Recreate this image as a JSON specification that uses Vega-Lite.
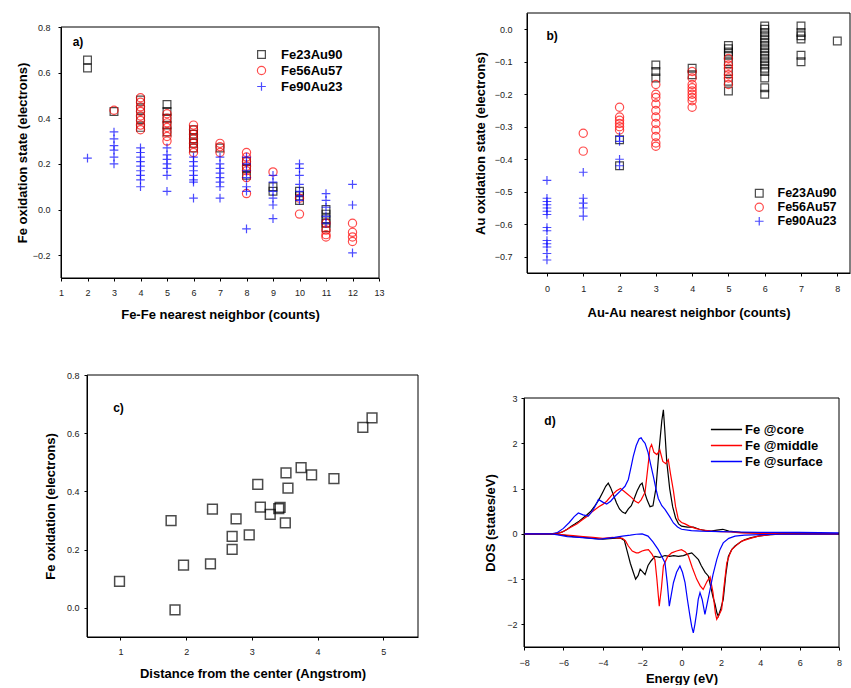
{
"$schema": "https://vega.github.io/schema/vega-lite/v6.json",
"background": "white",
"padding": {"left": 0, "top": 12, "right": 0, "bottom": 0},
"config": {
  "font": "Liberation Sans",
  "view": {"stroke": null},
  "axis": {"grid": false, "domain": true, "domainColor": "black", "domainWidth": 1, "tickColor": "black", "tickSize": 3, "tickWidth": 1, "labelFont": "Liberation Sans", "labelFontSize": 9, "labelColor": "#222", "labelFlush": false, "labelOverlap": false, "titleFont": "Liberation Sans", "titleFontSize": 13, "titleFontWeight": "bold", "titleColor": "black"},
  "legend": {"labelFont": "Liberation Sans", "labelColor": "black", "labelFontWeight": "bold"}
},
"resolve": {"scale": {"color": "independent", "shape": "independent", "size": "independent"}, "legend": {"color": "independent", "shape": "independent", "size": "independent"}},
"spacing": 50,
"vconcat": [
 {"resolve": {"scale": {"color": "independent", "shape": "independent", "size": "independent"}, "legend": {"color": "independent", "shape": "independent", "size": "independent"}},
  "hconcat": [
   {"vconcat": [
     {"width": 1, "height": 10, "data": {"values": []}, "mark": "point"},
     {"hconcat": [
       {"width": 16, "height": 1, "data": {"values": []}, "mark": "point"},
       {"width": 318, "height": 251,
        "resolve": {"axis": {"x": "independent", "y": "independent"}},
        "layer": [
         {"data": {"values": [
{"n":2,"q":0.655,"s":"Fe23Au90"},{"n":2,"q":0.62,"s":"Fe23Au90"},{"n":3,"q":0.43,"s":"Fe23Au90"},{"n":4,"q":0.48,"s":"Fe23Au90"},{"n":4,"q":0.44,"s":"Fe23Au90"},{"n":4,"q":0.40,"s":"Fe23Au90"},{"n":4,"q":0.36,"s":"Fe23Au90"},{"n":5,"q":0.46,"s":"Fe23Au90"},{"n":5,"q":0.43,"s":"Fe23Au90"},{"n":5,"q":0.40,"s":"Fe23Au90"},{"n":5,"q":0.37,"s":"Fe23Au90"},{"n":5,"q":0.34,"s":"Fe23Au90"},{"n":6,"q":0.35,"s":"Fe23Au90"},{"n":6,"q":0.33,"s":"Fe23Au90"},{"n":6,"q":0.31,"s":"Fe23Au90"},{"n":6,"q":0.29,"s":"Fe23Au90"},{"n":6,"q":0.27,"s":"Fe23Au90"},{"n":7,"q":0.27,"s":"Fe23Au90"},{"n":8,"q":0.21,"s":"Fe23Au90"},{"n":8,"q":0.18,"s":"Fe23Au90"},{"n":8,"q":0.15,"s":"Fe23Au90"},{"n":9,"q":0.10,"s":"Fe23Au90"},{"n":9,"q":0.08,"s":"Fe23Au90"},{"n":10,"q":0.08,"s":"Fe23Au90"},{"n":10,"q":0.06,"s":"Fe23Au90"},{"n":10,"q":0.04,"s":"Fe23Au90"},{"n":11,"q":0.0,"s":"Fe23Au90"},{"n":11,"q":-0.02,"s":"Fe23Au90"},{"n":11,"q":-0.04,"s":"Fe23Au90"},{"n":11,"q":-0.06,"s":"Fe23Au90"},{"n":11,"q":-0.08,"s":"Fe23Au90"},
{"n":3,"q":0.435,"s":"Fe56Au57"},{"n":4,"q":0.49,"s":"Fe56Au57"},{"n":4,"q":0.47,"s":"Fe56Au57"},{"n":4,"q":0.45,"s":"Fe56Au57"},{"n":4,"q":0.43,"s":"Fe56Au57"},{"n":4,"q":0.41,"s":"Fe56Au57"},{"n":4,"q":0.39,"s":"Fe56Au57"},{"n":4,"q":0.37,"s":"Fe56Au57"},{"n":4,"q":0.35,"s":"Fe56Au57"},{"n":5,"q":0.42,"s":"Fe56Au57"},{"n":5,"q":0.40,"s":"Fe56Au57"},{"n":5,"q":0.38,"s":"Fe56Au57"},{"n":5,"q":0.36,"s":"Fe56Au57"},{"n":5,"q":0.34,"s":"Fe56Au57"},{"n":5,"q":0.32,"s":"Fe56Au57"},{"n":5,"q":0.30,"s":"Fe56Au57"},{"n":6,"q":0.37,"s":"Fe56Au57"},{"n":6,"q":0.35,"s":"Fe56Au57"},{"n":6,"q":0.33,"s":"Fe56Au57"},{"n":6,"q":0.31,"s":"Fe56Au57"},{"n":6,"q":0.29,"s":"Fe56Au57"},{"n":6,"q":0.27,"s":"Fe56Au57"},{"n":6,"q":0.25,"s":"Fe56Au57"},{"n":7,"q":0.29,"s":"Fe56Au57"},{"n":7,"q":0.275,"s":"Fe56Au57"},{"n":7,"q":0.25,"s":"Fe56Au57"},{"n":8,"q":0.25,"s":"Fe56Au57"},{"n":8,"q":0.23,"s":"Fe56Au57"},{"n":8,"q":0.21,"s":"Fe56Au57"},{"n":8,"q":0.19,"s":"Fe56Au57"},{"n":8,"q":0.17,"s":"Fe56Au57"},{"n":8,"q":0.14,"s":"Fe56Au57"},{"n":8,"q":0.07,"s":"Fe56Au57"},{"n":9,"q":0.165,"s":"Fe56Au57"},{"n":10,"q":0.05,"s":"Fe56Au57"},{"n":10,"q":-0.02,"s":"Fe56Au57"},{"n":11,"q":-0.06,"s":"Fe56Au57"},{"n":11,"q":-0.09,"s":"Fe56Au57"},{"n":11,"q":-0.11,"s":"Fe56Au57"},{"n":11,"q":-0.12,"s":"Fe56Au57"},{"n":12,"q":-0.06,"s":"Fe56Au57"},{"n":12,"q":-0.10,"s":"Fe56Au57"},{"n":12,"q":-0.12,"s":"Fe56Au57"},{"n":12,"q":-0.14,"s":"Fe56Au57"},
{"n":2,"q":0.225,"s":"Fe90Au23"},{"n":3,"q":0.34,"s":"Fe90Au23"},{"n":3,"q":0.31,"s":"Fe90Au23"},{"n":3,"q":0.28,"s":"Fe90Au23"},{"n":3,"q":0.26,"s":"Fe90Au23"},{"n":3,"q":0.23,"s":"Fe90Au23"},{"n":3,"q":0.20,"s":"Fe90Au23"},{"n":4,"q":0.27,"s":"Fe90Au23"},{"n":4,"q":0.25,"s":"Fe90Au23"},{"n":4,"q":0.23,"s":"Fe90Au23"},{"n":4,"q":0.21,"s":"Fe90Au23"},{"n":4,"q":0.19,"s":"Fe90Au23"},{"n":4,"q":0.17,"s":"Fe90Au23"},{"n":4,"q":0.15,"s":"Fe90Au23"},{"n":4,"q":0.13,"s":"Fe90Au23"},{"n":4,"q":0.10,"s":"Fe90Au23"},{"n":5,"q":0.27,"s":"Fe90Au23"},{"n":5,"q":0.24,"s":"Fe90Au23"},{"n":5,"q":0.22,"s":"Fe90Au23"},{"n":5,"q":0.20,"s":"Fe90Au23"},{"n":5,"q":0.18,"s":"Fe90Au23"},{"n":5,"q":0.15,"s":"Fe90Au23"},{"n":5,"q":0.08,"s":"Fe90Au23"},{"n":6,"q":0.23,"s":"Fe90Au23"},{"n":6,"q":0.21,"s":"Fe90Au23"},{"n":6,"q":0.19,"s":"Fe90Au23"},{"n":6,"q":0.17,"s":"Fe90Au23"},{"n":6,"q":0.15,"s":"Fe90Au23"},{"n":6,"q":0.13,"s":"Fe90Au23"},{"n":6,"q":0.12,"s":"Fe90Au23"},{"n":6,"q":0.05,"s":"Fe90Au23"},{"n":7,"q":0.23,"s":"Fe90Au23"},{"n":7,"q":0.20,"s":"Fe90Au23"},{"n":7,"q":0.18,"s":"Fe90Au23"},{"n":7,"q":0.16,"s":"Fe90Au23"},{"n":7,"q":0.14,"s":"Fe90Au23"},{"n":7,"q":0.12,"s":"Fe90Au23"},{"n":7,"q":0.10,"s":"Fe90Au23"},{"n":7,"q":0.05,"s":"Fe90Au23"},{"n":8,"q":0.23,"s":"Fe90Au23"},{"n":8,"q":0.20,"s":"Fe90Au23"},{"n":8,"q":0.17,"s":"Fe90Au23"},{"n":8,"q":0.14,"s":"Fe90Au23"},{"n":8,"q":0.10,"s":"Fe90Au23"},{"n":8,"q":0.08,"s":"Fe90Au23"},{"n":8,"q":-0.085,"s":"Fe90Au23"},{"n":9,"q":0.15,"s":"Fe90Au23"},{"n":9,"q":0.12,"s":"Fe90Au23"},{"n":9,"q":0.08,"s":"Fe90Au23"},{"n":9,"q":0.05,"s":"Fe90Au23"},{"n":9,"q":0.02,"s":"Fe90Au23"},{"n":9,"q":-0.04,"s":"Fe90Au23"},{"n":10,"q":0.20,"s":"Fe90Au23"},{"n":10,"q":0.18,"s":"Fe90Au23"},{"n":10,"q":0.15,"s":"Fe90Au23"},{"n":10,"q":0.11,"s":"Fe90Au23"},{"n":10,"q":0.08,"s":"Fe90Au23"},{"n":10,"q":0.06,"s":"Fe90Au23"},{"n":10,"q":0.04,"s":"Fe90Au23"},{"n":11,"q":0.07,"s":"Fe90Au23"},{"n":11,"q":0.04,"s":"Fe90Au23"},{"n":11,"q":0.01,"s":"Fe90Au23"},{"n":11,"q":-0.03,"s":"Fe90Au23"},{"n":11,"q":-0.06,"s":"Fe90Au23"},{"n":12,"q":0.11,"s":"Fe90Au23"},{"n":12,"q":0.02,"s":"Fe90Au23"},{"n":12,"q":-0.19,"s":"Fe90Au23"}
          ]},
          "mark": {"type": "point", "filled": false, "strokeWidth": 1.2, "clip": true},
          "encoding": {
            "x": {"field": "n", "type": "quantitative", "scale": {"domain": [1, 13], "nice": false, "zero": false}, "axis": {"values": [1,2,3,4,5,6,7,8,9,10,11,12,13], "title": "Fe-Fe nearest neighbor (counts)", "labelPadding": 7, "minExtent": 20, "maxExtent": 20, "titlePadding": 10}},
            "y": {"field": "q", "type": "quantitative", "scale": {"domain": [-0.3, 0.8], "nice": false, "zero": false}, "axis": {"values": [-0.2, 0, 0.2, 0.4, 0.6, 0.8], "format": ".1f", "title": "Fe oxidation state (electrons)", "labelPadding": 8, "minExtent": 28, "maxExtent": 28, "titlePadding": 4}},
            "color": {"field": "s", "type": "nominal", "scale": {"domain": ["Fe23Au90", "Fe56Au57", "Fe90Au23"], "range": ["black", "red", "blue"]}, "legend": {"title": null, "orient": "none", "legendX": 255, "legendY": 35, "labelFontSize": 13, "labelOffset": 13, "rowPadding": 1, "symbolSize": 70, "symbolStrokeWidth": 1.2, "padding": 0}},
            "shape": {"field": "s", "type": "nominal", "scale": {"domain": ["Fe23Au90", "Fe56Au57", "Fe90Au23"], "range": ["square", "circle", "M-1,0L1,0M0,-1L0,1"]}, "legend": {"title": null, "orient": "none", "legendX": 255, "legendY": 35, "labelFontSize": 13, "labelOffset": 13, "rowPadding": 1, "symbolSize": 70, "symbolStrokeWidth": 1.2, "padding": 0}},
            "size": {"field": "s", "type": "nominal", "scale": {"domain": ["Fe23Au90", "Fe56Au57", "Fe90Au23"], "range": [60, 75, 110]}, "legend": null}
          }
         },
         {"data": {"values": [{}]},
          "mark": {"type": "rect", "filled": false, "stroke": "black", "strokeWidth": 1},
          "encoding": {"x": {"datum": 1, "type": "quantitative", "axis": null}, "x2": {"datum": 13}, "y": {"datum": -0.3, "type": "quantitative", "axis": null}, "y2": {"datum": 0.8}}
         },
         {"data": {"values": [{"t": "a)", "x": 1.64, "y": 0.734}]},
          "mark": {"type": "text", "fontSize": 12, "fontWeight": "bold", "color": "black"},
          "encoding": {
            "x": {"field": "x", "type": "quantitative", "axis": null},
            "y": {"field": "y", "type": "quantitative", "axis": null},
            "text": {"field": "t"}
          }
         }
        ]
       }
     ], "spacing": 0}
   ], "spacing": 0},
   {"width": 323, "height": 260,
    "resolve": {"axis": {"x": "independent", "y": "independent"}},
    "layer": [
     {"data": {"values": [
{"n":2,"q":-0.34,"s":"Fe23Au90"},{"n":2,"q":-0.42,"s":"Fe23Au90"},{"n":3,"q":-0.11,"s":"Fe23Au90"},{"n":3,"q":-0.13,"s":"Fe23Au90"},{"n":3,"q":-0.15,"s":"Fe23Au90"},{"n":4,"q":-0.12,"s":"Fe23Au90"},{"n":4,"q":-0.14,"s":"Fe23Au90"},{"n":5,"q":-0.05,"s":"Fe23Au90"},{"n":5,"q":-0.06,"s":"Fe23Au90"},{"n":5,"q":-0.07,"s":"Fe23Au90"},{"n":5,"q":-0.08,"s":"Fe23Au90"},{"n":5,"q":-0.10,"s":"Fe23Au90"},{"n":5,"q":-0.13,"s":"Fe23Au90"},{"n":5,"q":-0.16,"s":"Fe23Au90"},{"n":5,"q":-0.19,"s":"Fe23Au90"},{"n":6,"q":0.01,"s":"Fe23Au90"},{"n":6,"q":0.0,"s":"Fe23Au90"},{"n":6,"q":-0.01,"s":"Fe23Au90"},{"n":6,"q":-0.02,"s":"Fe23Au90"},{"n":6,"q":-0.03,"s":"Fe23Au90"},{"n":6,"q":-0.04,"s":"Fe23Au90"},{"n":6,"q":-0.05,"s":"Fe23Au90"},{"n":6,"q":-0.06,"s":"Fe23Au90"},{"n":6,"q":-0.07,"s":"Fe23Au90"},{"n":6,"q":-0.08,"s":"Fe23Au90"},{"n":6,"q":-0.09,"s":"Fe23Au90"},{"n":6,"q":-0.10,"s":"Fe23Au90"},{"n":6,"q":-0.11,"s":"Fe23Au90"},{"n":6,"q":-0.12,"s":"Fe23Au90"},{"n":6,"q":-0.13,"s":"Fe23Au90"},{"n":6,"q":-0.15,"s":"Fe23Au90"},{"n":6,"q":-0.18,"s":"Fe23Au90"},{"n":6,"q":-0.20,"s":"Fe23Au90"},{"n":7,"q":0.01,"s":"Fe23Au90"},{"n":7,"q":-0.01,"s":"Fe23Au90"},{"n":7,"q":-0.02,"s":"Fe23Au90"},{"n":7,"q":-0.03,"s":"Fe23Au90"},{"n":7,"q":-0.08,"s":"Fe23Au90"},{"n":7,"q":-0.10,"s":"Fe23Au90"},{"n":8,"q":-0.036,"s":"Fe23Au90"},
{"n":1,"q":-0.32,"s":"Fe56Au57"},{"n":1,"q":-0.375,"s":"Fe56Au57"},{"n":2,"q":-0.24,"s":"Fe56Au57"},{"n":2,"q":-0.27,"s":"Fe56Au57"},{"n":2,"q":-0.28,"s":"Fe56Au57"},{"n":2,"q":-0.29,"s":"Fe56Au57"},{"n":2,"q":-0.30,"s":"Fe56Au57"},{"n":2,"q":-0.31,"s":"Fe56Au57"},{"n":3,"q":-0.17,"s":"Fe56Au57"},{"n":3,"q":-0.20,"s":"Fe56Au57"},{"n":3,"q":-0.21,"s":"Fe56Au57"},{"n":3,"q":-0.23,"s":"Fe56Au57"},{"n":3,"q":-0.25,"s":"Fe56Au57"},{"n":3,"q":-0.27,"s":"Fe56Au57"},{"n":3,"q":-0.29,"s":"Fe56Au57"},{"n":3,"q":-0.31,"s":"Fe56Au57"},{"n":3,"q":-0.33,"s":"Fe56Au57"},{"n":3,"q":-0.35,"s":"Fe56Au57"},{"n":3,"q":-0.36,"s":"Fe56Au57"},{"n":4,"q":-0.13,"s":"Fe56Au57"},{"n":4,"q":-0.15,"s":"Fe56Au57"},{"n":4,"q":-0.17,"s":"Fe56Au57"},{"n":4,"q":-0.18,"s":"Fe56Au57"},{"n":4,"q":-0.19,"s":"Fe56Au57"},{"n":4,"q":-0.20,"s":"Fe56Au57"},{"n":4,"q":-0.21,"s":"Fe56Au57"},{"n":4,"q":-0.22,"s":"Fe56Au57"},{"n":4,"q":-0.24,"s":"Fe56Au57"},{"n":5,"q":-0.09,"s":"Fe56Au57"},{"n":5,"q":-0.11,"s":"Fe56Au57"},{"n":5,"q":-0.12,"s":"Fe56Au57"},{"n":5,"q":-0.14,"s":"Fe56Au57"},{"n":5,"q":-0.15,"s":"Fe56Au57"},{"n":5,"q":-0.17,"s":"Fe56Au57"},
{"n":0,"q":-0.465,"s":"Fe90Au23"},{"n":0,"q":-0.52,"s":"Fe90Au23"},{"n":0,"q":-0.53,"s":"Fe90Au23"},{"n":0,"q":-0.54,"s":"Fe90Au23"},{"n":0,"q":-0.55,"s":"Fe90Au23"},{"n":0,"q":-0.56,"s":"Fe90Au23"},{"n":0,"q":-0.57,"s":"Fe90Au23"},{"n":0,"q":-0.61,"s":"Fe90Au23"},{"n":0,"q":-0.62,"s":"Fe90Au23"},{"n":0,"q":-0.65,"s":"Fe90Au23"},{"n":0,"q":-0.66,"s":"Fe90Au23"},{"n":0,"q":-0.67,"s":"Fe90Au23"},{"n":0,"q":-0.69,"s":"Fe90Au23"},{"n":0,"q":-0.71,"s":"Fe90Au23"},{"n":1,"q":-0.44,"s":"Fe90Au23"},{"n":1,"q":-0.52,"s":"Fe90Au23"},{"n":1,"q":-0.535,"s":"Fe90Au23"},{"n":1,"q":-0.55,"s":"Fe90Au23"},{"n":1,"q":-0.575,"s":"Fe90Au23"},{"n":2,"q":-0.33,"s":"Fe90Au23"},{"n":2,"q":-0.345,"s":"Fe90Au23"},{"n":2,"q":-0.40,"s":"Fe90Au23"},{"n":2,"q":-0.42,"s":"Fe90Au23"}
      ]},
      "mark": {"type": "point", "filled": false, "strokeWidth": 1.2, "clip": true},
      "encoding": {
        "x": {"field": "n", "type": "quantitative", "scale": {"domain": [-0.55, 8.35], "nice": false, "zero": false}, "axis": {"values": [0,1,2,3,4,5,6,7,8], "title": "Au-Au nearest neighbor (counts)", "labelPadding": 8, "minExtent": 20, "maxExtent": 20, "titlePadding": 13}},
        "y": {"field": "q", "type": "quantitative", "scale": {"domain": [-0.75, 0.05], "nice": false, "zero": false}, "axis": {"values": [-0.7, -0.6, -0.5, -0.4, -0.3, -0.2, -0.1, 0], "format": ".1f", "title": "Au oxidation state (electrons)", "labelPadding": 12, "minExtent": 30, "maxExtent": 30, "titlePadding": 10}},
        "color": {"field": "s", "type": "nominal", "scale": {"domain": ["Fe23Au90", "Fe56Au57", "Fe90Au23"], "range": ["black", "red", "blue"]}, "legend": {"title": null, "orient": "none", "legendX": 226, "legendY": 174, "labelFontSize": 12.5, "labelOffset": 12, "rowPadding": 0, "symbolSize": 70, "symbolStrokeWidth": 1.2, "padding": 0}},
        "shape": {"field": "s", "type": "nominal", "scale": {"domain": ["Fe23Au90", "Fe56Au57", "Fe90Au23"], "range": ["square", "circle", "M-1,0L1,0M0,-1L0,1"]}, "legend": {"title": null, "orient": "none", "legendX": 226, "legendY": 174, "labelFontSize": 12.5, "labelOffset": 12, "rowPadding": 0, "symbolSize": 70, "symbolStrokeWidth": 1.2, "padding": 0}},
        "size": {"field": "s", "type": "nominal", "scale": {"domain": ["Fe23Au90", "Fe56Au57", "Fe90Au23"], "range": [60, 75, 110]}, "legend": null}
      }
     },
     {"data": {"values": [{}]},
      "mark": {"type": "rect", "filled": false, "stroke": "black", "strokeWidth": 1},
      "encoding": {"x": {"datum": -0.55, "type": "quantitative", "axis": null}, "x2": {"datum": 8.35}, "y": {"datum": -0.75, "type": "quantitative", "axis": null}, "y2": {"datum": 0.05}}
     },
     {"data": {"values": [{"t": "b)", "x": 0.14, "y": -0.02}]},
      "mark": {"type": "text", "fontSize": 12, "fontWeight": "bold", "color": "black"},
      "encoding": {
        "x": {"field": "x", "type": "quantitative", "axis": null},
        "y": {"field": "y", "type": "quantitative", "axis": null},
        "text": {"field": "t"}
      }
     }
    ]
   }
 ], "spacing": 89},
 {"resolve": {"scale": {"color": "independent", "shape": "independent", "size": "independent"}, "legend": {"color": "independent", "shape": "independent", "size": "independent"}},
  "hconcat": [
   {"hconcat": [
     {"width": 44, "height": 1, "data": {"values": []}, "mark": "point"},
     {"width": 331, "height": 262,
      "resolve": {"axis": {"x": "independent", "y": "independent"}},
      "layer": [
       {"data": {"values": [
{"d":0.985,"q":0.091},{"d":1.77,"q":0.30},{"d":1.83,"q":-0.007},{"d":1.96,"q":0.147},{"d":2.37,"q":0.151},{"d":2.40,"q":0.339},{"d":2.70,"q":0.246},{"d":2.70,"q":0.201},{"d":2.76,"q":0.306},{"d":2.96,"q":0.251},{"d":3.09,"q":0.424},{"d":3.13,"q":0.346},{"d":3.28,"q":0.321},{"d":3.41,"q":0.341},{"d":3.43,"q":0.345},{"d":3.51,"q":0.292},{"d":3.52,"q":0.464},{"d":3.55,"q":0.411},{"d":3.75,"q":0.482},{"d":3.91,"q":0.457},{"d":4.25,"q":0.444},{"d":4.69,"q":0.620},{"d":4.83,"q":0.653}
        ]},
        "mark": {"type": "point", "shape": "square", "filled": false, "color": "black", "size": 95, "strokeWidth": 1.5},
        "encoding": {
          "x": {"field": "d", "type": "quantitative", "scale": {"domain": [0.49, 5.53], "nice": false, "zero": false}, "axis": {"values": [1,2,3,4,5], "title": "Distance from the center (Angstrom)", "labelPadding": 7, "minExtent": 20, "maxExtent": 20, "titlePadding": 10}},
          "y": {"field": "q", "type": "quantitative", "scale": {"domain": [-0.1, 0.8], "nice": false, "zero": false}, "axis": {"values": [0, 0.2, 0.4, 0.6, 0.8], "format": ".1f", "title": "Fe oxidation (electrons)", "labelPadding": 5, "minExtent": 24, "maxExtent": 24, "titlePadding": 6}}
        }
       },
       {"data": {"values": [{}]},
        "mark": {"type": "rect", "filled": false, "stroke": "black", "strokeWidth": 1},
        "encoding": {"x": {"datum": 0.49, "type": "quantitative", "axis": null}, "x2": {"datum": 5.53}, "y": {"datum": -0.1, "type": "quantitative", "axis": null}, "y2": {"datum": 0.8}}
       },
       {"data": {"values": [{"t": "c)", "x": 0.97, "y": 0.686}]},
        "mark": {"type": "text", "fontSize": 12, "fontWeight": "bold", "color": "black"},
        "encoding": {
          "x": {"field": "x", "type": "quantitative", "axis": null},
          "y": {"field": "y", "type": "quantitative", "axis": null},
          "text": {"field": "t"}
        }
       }
      ]
     }
   ], "spacing": 0},
   {"vconcat": [
     {"width": 1, "height": 19, "data": {"values": []}, "mark": "point"},
     {"width": 315, "height": 249,
      "resolve": {"axis": {"x": "independent", "y": "independent"}},
      "layer": [
       {"data": {"values": [
{"e":-8,"v":0,"c":"Fe @core","p":"up"},{"e":-6.5,"v":0,"c":"Fe @core","p":"up"},{"e":-6.2,"v":0.02,"c":"Fe @core","p":"up"},{"e":-6.0,"v":0.05,"c":"Fe @core","p":"up"},{"e":-5.8,"v":0.1,"c":"Fe @core","p":"up"},{"e":-5.6,"v":0.17,"c":"Fe @core","p":"up"},{"e":-5.4,"v":0.22,"c":"Fe @core","p":"up"},{"e":-5.2,"v":0.28,"c":"Fe @core","p":"up"},{"e":-5.0,"v":0.35,"c":"Fe @core","p":"up"},{"e":-4.8,"v":0.42,"c":"Fe @core","p":"up"},{"e":-4.6,"v":0.5,"c":"Fe @core","p":"up"},{"e":-4.4,"v":0.62,"c":"Fe @core","p":"up"},{"e":-4.2,"v":0.75,"c":"Fe @core","p":"up"},{"e":-4.0,"v":0.92,"c":"Fe @core","p":"up"},{"e":-3.85,"v":1.05,"c":"Fe @core","p":"up"},{"e":-3.72,"v":1.12,"c":"Fe @core","p":"up"},{"e":-3.6,"v":1.02,"c":"Fe @core","p":"up"},{"e":-3.45,"v":0.85,"c":"Fe @core","p":"up"},{"e":-3.3,"v":0.68,"c":"Fe @core","p":"up"},{"e":-3.15,"v":0.55,"c":"Fe @core","p":"up"},{"e":-3.0,"v":0.48,"c":"Fe @core","p":"up"},{"e":-2.85,"v":0.45,"c":"Fe @core","p":"up"},{"e":-2.7,"v":0.55,"c":"Fe @core","p":"up"},{"e":-2.55,"v":0.62,"c":"Fe @core","p":"up"},{"e":-2.4,"v":0.78,"c":"Fe @core","p":"up"},{"e":-2.25,"v":0.95,"c":"Fe @core","p":"up"},{"e":-2.1,"v":1.08,"c":"Fe @core","p":"up"},{"e":-2.0,"v":1.12,"c":"Fe @core","p":"up"},{"e":-1.9,"v":0.95,"c":"Fe @core","p":"up"},{"e":-1.75,"v":0.75,"c":"Fe @core","p":"up"},{"e":-1.6,"v":0.6,"c":"Fe @core","p":"up"},{"e":-1.45,"v":0.62,"c":"Fe @core","p":"up"},{"e":-1.3,"v":1.0,"c":"Fe @core","p":"up"},{"e":-1.15,"v":1.8,"c":"Fe @core","p":"up"},{"e":-1.0,"v":2.5,"c":"Fe @core","p":"up"},{"e":-0.92,"v":2.74,"c":"Fe @core","p":"up"},{"e":-0.85,"v":2.3,"c":"Fe @core","p":"up"},{"e":-0.75,"v":1.6,"c":"Fe @core","p":"up"},{"e":-0.6,"v":1.0,"c":"Fe @core","p":"up"},{"e":-0.45,"v":0.6,"c":"Fe @core","p":"up"},{"e":-0.3,"v":0.35,"c":"Fe @core","p":"up"},{"e":-0.15,"v":0.22,"c":"Fe @core","p":"up"},{"e":0.0,"v":0.17,"c":"Fe @core","p":"up"},{"e":0.3,"v":0.15,"c":"Fe @core","p":"up"},{"e":0.6,"v":0.15,"c":"Fe @core","p":"up"},{"e":0.9,"v":0.1,"c":"Fe @core","p":"up"},{"e":1.2,"v":0.07,"c":"Fe @core","p":"up"},{"e":1.5,"v":0.06,"c":"Fe @core","p":"up"},{"e":1.8,"v":0.08,"c":"Fe @core","p":"up"},{"e":2.1,"v":0.1,"c":"Fe @core","p":"up"},{"e":2.4,"v":0.06,"c":"Fe @core","p":"up"},{"e":3.0,"v":0.03,"c":"Fe @core","p":"up"},{"e":4.0,"v":0.02,"c":"Fe @core","p":"up"},{"e":5.0,"v":0.01,"c":"Fe @core","p":"up"},{"e":6.0,"v":0.01,"c":"Fe @core","p":"up"},{"e":8.0,"v":0,"c":"Fe @core","p":"up"},
{"e":-8,"v":0,"c":"Fe @middle","p":"up"},{"e":-6.5,"v":0,"c":"Fe @middle","p":"up"},{"e":-6.1,"v":0.03,"c":"Fe @middle","p":"up"},{"e":-5.9,"v":0.08,"c":"Fe @middle","p":"up"},{"e":-5.6,"v":0.15,"c":"Fe @middle","p":"up"},{"e":-5.3,"v":0.22,"c":"Fe @middle","p":"up"},{"e":-5.07,"v":0.3,"c":"Fe @middle","p":"up"},{"e":-4.8,"v":0.38,"c":"Fe @middle","p":"up"},{"e":-4.5,"v":0.5,"c":"Fe @middle","p":"up"},{"e":-4.2,"v":0.6,"c":"Fe @middle","p":"up"},{"e":-4.0,"v":0.65,"c":"Fe @middle","p":"up"},{"e":-3.8,"v":0.72,"c":"Fe @middle","p":"up"},{"e":-3.55,"v":0.85,"c":"Fe @middle","p":"up"},{"e":-3.3,"v":0.95,"c":"Fe @middle","p":"up"},{"e":-3.1,"v":1.0,"c":"Fe @middle","p":"up"},{"e":-2.95,"v":0.95,"c":"Fe @middle","p":"up"},{"e":-2.75,"v":0.88,"c":"Fe @middle","p":"up"},{"e":-2.53,"v":0.8,"c":"Fe @middle","p":"up"},{"e":-2.35,"v":0.72,"c":"Fe @middle","p":"up"},{"e":-2.19,"v":0.68,"c":"Fe @middle","p":"up"},{"e":-2.05,"v":0.75,"c":"Fe @middle","p":"up"},{"e":-1.85,"v":0.92,"c":"Fe @middle","p":"up"},{"e":-1.7,"v":1.5,"c":"Fe @middle","p":"up"},{"e":-1.6,"v":1.9,"c":"Fe @middle","p":"up"},{"e":-1.52,"v":1.97,"c":"Fe @middle","p":"up"},{"e":-1.4,"v":1.8,"c":"Fe @middle","p":"up"},{"e":-1.25,"v":1.75,"c":"Fe @middle","p":"up"},{"e":-1.1,"v":1.85,"c":"Fe @middle","p":"up"},{"e":-0.95,"v":1.6,"c":"Fe @middle","p":"up"},{"e":-0.8,"v":1.55,"c":"Fe @middle","p":"up"},{"e":-0.67,"v":1.64,"c":"Fe @middle","p":"up"},{"e":-0.55,"v":1.3,"c":"Fe @middle","p":"up"},{"e":-0.41,"v":0.95,"c":"Fe @middle","p":"up"},{"e":-0.3,"v":0.6,"c":"Fe @middle","p":"up"},{"e":-0.16,"v":0.32,"c":"Fe @middle","p":"up"},{"e":0.0,"v":0.25,"c":"Fe @middle","p":"up"},{"e":0.18,"v":0.22,"c":"Fe @middle","p":"up"},{"e":0.4,"v":0.17,"c":"Fe @middle","p":"up"},{"e":0.7,"v":0.12,"c":"Fe @middle","p":"up"},{"e":1.0,"v":0.09,"c":"Fe @middle","p":"up"},{"e":1.5,"v":0.06,"c":"Fe @middle","p":"up"},{"e":2.0,"v":0.05,"c":"Fe @middle","p":"up"},{"e":2.5,"v":0.04,"c":"Fe @middle","p":"up"},{"e":3.0,"v":0.02,"c":"Fe @middle","p":"up"},{"e":4.0,"v":0.01,"c":"Fe @middle","p":"up"},{"e":6.0,"v":0.01,"c":"Fe @middle","p":"up"},{"e":8.0,"v":0,"c":"Fe @middle","p":"up"},
{"e":-8,"v":0,"c":"Fe @surface","p":"up"},{"e":-6.6,"v":0,"c":"Fe @surface","p":"up"},{"e":-6.3,"v":0.03,"c":"Fe @surface","p":"up"},{"e":-6.0,"v":0.12,"c":"Fe @surface","p":"up"},{"e":-5.7,"v":0.25,"c":"Fe @surface","p":"up"},{"e":-5.45,"v":0.38,"c":"Fe @surface","p":"up"},{"e":-5.24,"v":0.46,"c":"Fe @surface","p":"up"},{"e":-5.0,"v":0.42,"c":"Fe @surface","p":"up"},{"e":-4.73,"v":0.39,"c":"Fe @surface","p":"up"},{"e":-4.5,"v":0.52,"c":"Fe @surface","p":"up"},{"e":-4.3,"v":0.68,"c":"Fe @surface","p":"up"},{"e":-4.22,"v":0.76,"c":"Fe @surface","p":"up"},{"e":-4.0,"v":0.7,"c":"Fe @surface","p":"up"},{"e":-3.8,"v":0.66,"c":"Fe @surface","p":"up"},{"e":-3.6,"v":0.72,"c":"Fe @surface","p":"up"},{"e":-3.38,"v":0.83,"c":"Fe @surface","p":"up"},{"e":-3.1,"v":0.95,"c":"Fe @surface","p":"up"},{"e":-2.87,"v":1.05,"c":"Fe @surface","p":"up"},{"e":-2.7,"v":1.2,"c":"Fe @surface","p":"up"},{"e":-2.55,"v":1.5,"c":"Fe @surface","p":"up"},{"e":-2.45,"v":1.71,"c":"Fe @surface","p":"up"},{"e":-2.3,"v":1.95,"c":"Fe @surface","p":"up"},{"e":-2.15,"v":2.1,"c":"Fe @surface","p":"up"},{"e":-2.05,"v":2.12,"c":"Fe @surface","p":"up"},{"e":-1.95,"v":2.05,"c":"Fe @surface","p":"up"},{"e":-1.85,"v":2.0,"c":"Fe @surface","p":"up"},{"e":-1.7,"v":1.8,"c":"Fe @surface","p":"up"},{"e":-1.55,"v":1.5,"c":"Fe @surface","p":"up"},{"e":-1.43,"v":1.27,"c":"Fe @surface","p":"up"},{"e":-1.3,"v":1.0,"c":"Fe @surface","p":"up"},{"e":-1.18,"v":0.78,"c":"Fe @surface","p":"up"},{"e":-1.0,"v":0.62,"c":"Fe @surface","p":"up"},{"e":-0.84,"v":0.54,"c":"Fe @surface","p":"up"},{"e":-0.6,"v":0.38,"c":"Fe @surface","p":"up"},{"e":-0.41,"v":0.24,"c":"Fe @surface","p":"up"},{"e":-0.2,"v":0.15,"c":"Fe @surface","p":"up"},{"e":0.0,"v":0.1,"c":"Fe @surface","p":"up"},{"e":0.5,"v":0.07,"c":"Fe @surface","p":"up"},{"e":1.0,"v":0.06,"c":"Fe @surface","p":"up"},{"e":2.0,"v":0.05,"c":"Fe @surface","p":"up"},{"e":3.0,"v":0.04,"c":"Fe @surface","p":"up"},{"e":4.0,"v":0.03,"c":"Fe @surface","p":"up"},{"e":6.0,"v":0.03,"c":"Fe @surface","p":"up"},{"e":8.0,"v":0.02,"c":"Fe @surface","p":"up"},
{"e":-8,"v":0,"c":"Fe @core","p":"down"},{"e":-6.5,"v":0,"c":"Fe @core","p":"down"},{"e":-6.0,"v":-0.03,"c":"Fe @core","p":"down"},{"e":-5.5,"v":-0.06,"c":"Fe @core","p":"down"},{"e":-5.0,"v":-0.08,"c":"Fe @core","p":"down"},{"e":-4.5,"v":-0.1,"c":"Fe @core","p":"down"},{"e":-4.0,"v":-0.12,"c":"Fe @core","p":"down"},{"e":-3.5,"v":-0.1,"c":"Fe @core","p":"down"},{"e":-3.1,"v":-0.09,"c":"Fe @core","p":"down"},{"e":-2.9,"v":-0.15,"c":"Fe @core","p":"down"},{"e":-2.75,"v":-0.4,"c":"Fe @core","p":"down"},{"e":-2.6,"v":-0.65,"c":"Fe @core","p":"down"},{"e":-2.45,"v":-0.85,"c":"Fe @core","p":"down"},{"e":-2.33,"v":-1.0,"c":"Fe @core","p":"down"},{"e":-2.2,"v":-0.92,"c":"Fe @core","p":"down"},{"e":-2.1,"v":-0.78,"c":"Fe @core","p":"down"},{"e":-1.95,"v":-0.85,"c":"Fe @core","p":"down"},{"e":-1.85,"v":-0.9,"c":"Fe @core","p":"down"},{"e":-1.7,"v":-0.7,"c":"Fe @core","p":"down"},{"e":-1.55,"v":-0.6,"c":"Fe @core","p":"down"},{"e":-1.35,"v":-0.5,"c":"Fe @core","p":"down"},{"e":-1.1,"v":-0.52,"c":"Fe @core","p":"down"},{"e":-0.84,"v":-0.48,"c":"Fe @core","p":"down"},{"e":-0.6,"v":-0.5,"c":"Fe @core","p":"down"},{"e":-0.4,"v":-0.48,"c":"Fe @core","p":"down"},{"e":-0.16,"v":-0.5,"c":"Fe @core","p":"down"},{"e":0.1,"v":-0.48,"c":"Fe @core","p":"down"},{"e":0.3,"v":-0.45,"c":"Fe @core","p":"down"},{"e":0.52,"v":-0.42,"c":"Fe @core","p":"down"},{"e":0.7,"v":-0.5,"c":"Fe @core","p":"down"},{"e":0.86,"v":-0.57,"c":"Fe @core","p":"down"},{"e":1.0,"v":-0.7,"c":"Fe @core","p":"down"},{"e":1.2,"v":-0.85,"c":"Fe @core","p":"down"},{"e":1.36,"v":-0.93,"c":"Fe @core","p":"down"},{"e":1.5,"v":-1.2,"c":"Fe @core","p":"down"},{"e":1.6,"v":-1.4,"c":"Fe @core","p":"down"},{"e":1.7,"v":-1.55,"c":"Fe @core","p":"down"},{"e":1.8,"v":-1.75,"c":"Fe @core","p":"down"},{"e":1.87,"v":-1.82,"c":"Fe @core","p":"down"},{"e":2.0,"v":-1.65,"c":"Fe @core","p":"down"},{"e":2.12,"v":-1.45,"c":"Fe @core","p":"down"},{"e":2.25,"v":-0.9,"c":"Fe @core","p":"down"},{"e":2.38,"v":-0.5,"c":"Fe @core","p":"down"},{"e":2.55,"v":-0.35,"c":"Fe @core","p":"down"},{"e":2.72,"v":-0.27,"c":"Fe @core","p":"down"},{"e":3.0,"v":-0.18,"c":"Fe @core","p":"down"},{"e":3.2,"v":-0.13,"c":"Fe @core","p":"down"},{"e":3.5,"v":-0.09,"c":"Fe @core","p":"down"},{"e":3.9,"v":-0.05,"c":"Fe @core","p":"down"},{"e":4.5,"v":-0.02,"c":"Fe @core","p":"down"},{"e":5.0,"v":-0.01,"c":"Fe @core","p":"down"},{"e":8.0,"v":0,"c":"Fe @core","p":"down"},
{"e":-8,"v":0,"c":"Fe @middle","p":"down"},{"e":-6.5,"v":0,"c":"Fe @middle","p":"down"},{"e":-6.0,"v":-0.02,"c":"Fe @middle","p":"down"},{"e":-5.5,"v":-0.04,"c":"Fe @middle","p":"down"},{"e":-5.0,"v":-0.06,"c":"Fe @middle","p":"down"},{"e":-4.5,"v":-0.08,"c":"Fe @middle","p":"down"},{"e":-4.0,"v":-0.1,"c":"Fe @middle","p":"down"},{"e":-3.5,"v":-0.08,"c":"Fe @middle","p":"down"},{"e":-3.0,"v":-0.1,"c":"Fe @middle","p":"down"},{"e":-2.85,"v":-0.15,"c":"Fe @middle","p":"down"},{"e":-2.7,"v":-0.27,"c":"Fe @middle","p":"down"},{"e":-2.5,"v":-0.38,"c":"Fe @middle","p":"down"},{"e":-2.3,"v":-0.42,"c":"Fe @middle","p":"down"},{"e":-2.19,"v":-0.42,"c":"Fe @middle","p":"down"},{"e":-2.0,"v":-0.38,"c":"Fe @middle","p":"down"},{"e":-1.85,"v":-0.36,"c":"Fe @middle","p":"down"},{"e":-1.68,"v":-0.35,"c":"Fe @middle","p":"down"},{"e":-1.5,"v":-0.45,"c":"Fe @middle","p":"down"},{"e":-1.35,"v":-0.57,"c":"Fe @middle","p":"down"},{"e":-1.25,"v":-1.0,"c":"Fe @middle","p":"down"},{"e":-1.13,"v":-1.6,"c":"Fe @middle","p":"down"},{"e":-1.02,"v":-1.2,"c":"Fe @middle","p":"down"},{"e":-0.92,"v":-0.71,"c":"Fe @middle","p":"down"},{"e":-0.7,"v":-0.5,"c":"Fe @middle","p":"down"},{"e":-0.5,"v":-0.42,"c":"Fe @middle","p":"down"},{"e":-0.25,"v":-0.38,"c":"Fe @middle","p":"down"},{"e":0.0,"v":-0.35,"c":"Fe @middle","p":"down"},{"e":0.2,"v":-0.4,"c":"Fe @middle","p":"down"},{"e":0.35,"v":-0.49,"c":"Fe @middle","p":"down"},{"e":0.55,"v":-0.75,"c":"Fe @middle","p":"down"},{"e":0.77,"v":-1.0,"c":"Fe @middle","p":"down"},{"e":0.95,"v":-1.15,"c":"Fe @middle","p":"down"},{"e":1.1,"v":-1.23,"c":"Fe @middle","p":"down"},{"e":1.3,"v":-1.05,"c":"Fe @middle","p":"down"},{"e":1.45,"v":-0.95,"c":"Fe @middle","p":"down"},{"e":1.6,"v":-1.3,"c":"Fe @middle","p":"down"},{"e":1.72,"v":-1.75,"c":"Fe @middle","p":"down"},{"e":1.79,"v":-1.89,"c":"Fe @middle","p":"down"},{"e":1.9,"v":-1.8,"c":"Fe @middle","p":"down"},{"e":2.04,"v":-1.67,"c":"Fe @middle","p":"down"},{"e":2.15,"v":-1.2,"c":"Fe @middle","p":"down"},{"e":2.3,"v":-0.64,"c":"Fe @middle","p":"down"},{"e":2.45,"v":-0.45,"c":"Fe @middle","p":"down"},{"e":2.55,"v":-0.35,"c":"Fe @middle","p":"down"},{"e":2.8,"v":-0.25,"c":"Fe @middle","p":"down"},{"e":3.06,"v":-0.16,"c":"Fe @middle","p":"down"},{"e":3.5,"v":-0.1,"c":"Fe @middle","p":"down"},{"e":3.9,"v":-0.05,"c":"Fe @middle","p":"down"},{"e":4.5,"v":-0.02,"c":"Fe @middle","p":"down"},{"e":5.0,"v":-0.01,"c":"Fe @middle","p":"down"},{"e":8.0,"v":0,"c":"Fe @middle","p":"down"},
{"e":-8,"v":0,"c":"Fe @surface","p":"down"},{"e":-6.6,"v":0,"c":"Fe @surface","p":"down"},{"e":-6.2,"v":-0.03,"c":"Fe @surface","p":"down"},{"e":-5.8,"v":-0.06,"c":"Fe @surface","p":"down"},{"e":-5.2,"v":-0.08,"c":"Fe @surface","p":"down"},{"e":-4.6,"v":-0.1,"c":"Fe @surface","p":"down"},{"e":-4.2,"v":-0.12,"c":"Fe @surface","p":"down"},{"e":-3.8,"v":-0.1,"c":"Fe @surface","p":"down"},{"e":-3.4,"v":-0.08,"c":"Fe @surface","p":"down"},{"e":-3.0,"v":-0.05,"c":"Fe @surface","p":"down"},{"e":-2.6,"v":-0.03,"c":"Fe @surface","p":"down"},{"e":-2.3,"v":-0.01,"c":"Fe @surface","p":"down"},{"e":-2.0,"v":0.0,"c":"Fe @surface","p":"down"},{"e":-1.7,"v":-0.05,"c":"Fe @surface","p":"down"},{"e":-1.45,"v":-0.18,"c":"Fe @surface","p":"down"},{"e":-1.18,"v":-0.35,"c":"Fe @surface","p":"down"},{"e":-1.0,"v":-0.5,"c":"Fe @surface","p":"down"},{"e":-0.84,"v":-0.64,"c":"Fe @surface","p":"down"},{"e":-0.72,"v":-1.1,"c":"Fe @surface","p":"down"},{"e":-0.62,"v":-1.6,"c":"Fe @surface","p":"down"},{"e":-0.52,"v":-1.35,"c":"Fe @surface","p":"down"},{"e":-0.41,"v":-1.08,"c":"Fe @surface","p":"down"},{"e":-0.25,"v":-0.85,"c":"Fe @surface","p":"down"},{"e":-0.08,"v":-0.71,"c":"Fe @surface","p":"down"},{"e":0.05,"v":-0.85,"c":"Fe @surface","p":"down"},{"e":0.18,"v":-1.08,"c":"Fe @surface","p":"down"},{"e":0.3,"v":-1.45,"c":"Fe @surface","p":"down"},{"e":0.43,"v":-1.82,"c":"Fe @surface","p":"down"},{"e":0.52,"v":-2.05,"c":"Fe @surface","p":"down"},{"e":0.6,"v":-2.19,"c":"Fe @surface","p":"down"},{"e":0.68,"v":-2.0,"c":"Fe @surface","p":"down"},{"e":0.77,"v":-1.74,"c":"Fe @surface","p":"down"},{"e":0.85,"v":-1.45,"c":"Fe @surface","p":"down"},{"e":0.94,"v":-1.3,"c":"Fe @surface","p":"down"},{"e":1.05,"v":-1.45,"c":"Fe @surface","p":"down"},{"e":1.19,"v":-1.78,"c":"Fe @surface","p":"down"},{"e":1.3,"v":-1.55,"c":"Fe @surface","p":"down"},{"e":1.45,"v":-1.23,"c":"Fe @surface","p":"down"},{"e":1.6,"v":-0.9,"c":"Fe @surface","p":"down"},{"e":1.79,"v":-0.57,"c":"Fe @surface","p":"down"},{"e":1.95,"v":-0.35,"c":"Fe @surface","p":"down"},{"e":2.12,"v":-0.2,"c":"Fe @surface","p":"down"},{"e":2.4,"v":-0.1,"c":"Fe @surface","p":"down"},{"e":2.72,"v":-0.05,"c":"Fe @surface","p":"down"},{"e":3.2,"v":-0.03,"c":"Fe @surface","p":"down"},{"e":4.0,"v":-0.02,"c":"Fe @surface","p":"down"},{"e":5.0,"v":-0.01,"c":"Fe @surface","p":"down"},{"e":8.0,"v":0,"c":"Fe @surface","p":"down"}
        ]},
        "mark": {"type": "line", "strokeWidth": 1.2, "clip": true},
        "encoding": {
          "x": {"field": "e", "type": "quantitative", "scale": {"domain": [-8, 8], "nice": false, "zero": false}, "axis": {"values": [-8,-6,-4,-2,0,2,4,6,8], "title": "Energy (eV)", "labelPadding": 8, "minExtent": 20, "maxExtent": 20, "titlePadding": 5}},
          "y": {"field": "v", "type": "quantitative", "scale": {"domain": [-2.5, 3], "nice": false, "zero": false}, "axis": {"values": [-2,-1,0,1,2,3], "format": "d", "title": "DOS (states/eV)", "labelPadding": 4, "minExtent": 18, "maxExtent": 18, "titlePadding": 9}},
          "color": {"field": "c", "type": "nominal", "scale": {"domain": ["Fe @core", "Fe @middle", "Fe @surface"], "range": ["black", "red", "blue"]}, "legend": {"title": null, "orient": "none", "legendX": 196, "legendY": 48, "labelFontSize": 13, "labelOffset": 12, "rowPadding": 2, "symbolType": "M-3.9,0L3.9,0", "symbolSize": 64, "symbolStrokeWidth": 1.5, "padding": 0}},
          "detail": {"field": "p", "type": "nominal"}
        }
       },
       {"data": {"values": [{}]},
        "mark": {"type": "rect", "filled": false, "stroke": "black", "strokeWidth": 1},
        "encoding": {"x": {"datum": -8, "type": "quantitative", "axis": null}, "x2": {"datum": 8}, "y": {"datum": -2.5, "type": "quantitative", "axis": null}, "y2": {"datum": 3}}
       },
       {"data": {"values": [{"t": "d)", "x": -6.68, "y": 2.49}]},
        "mark": {"type": "text", "fontSize": 12, "fontWeight": "bold", "color": "black"},
        "encoding": {
          "x": {"field": "x", "type": "quantitative", "axis": null},
          "y": {"field": "y", "type": "quantitative", "axis": null},
          "text": {"field": "t"}
        }
       }
      ]
     }
   ], "spacing": 0}
 ], "spacing": 65}
]
}
